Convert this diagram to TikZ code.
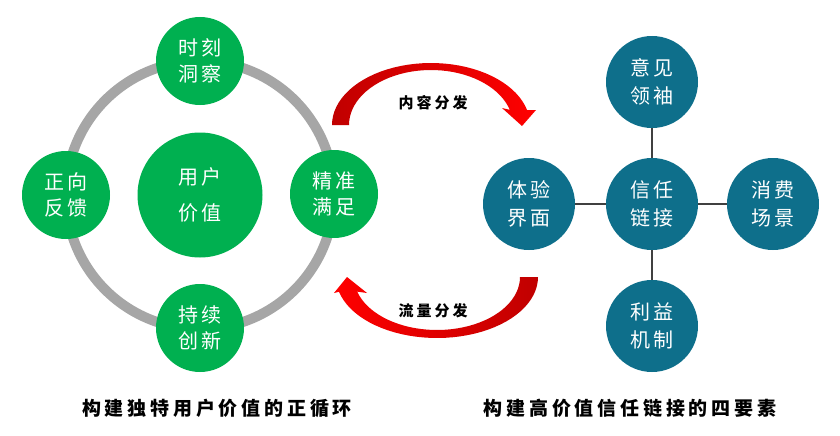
\documentclass[tikz,border=0pt]{standalone}
\usepackage{fontspec}
\newfontfamily\cjk{Noto Sans CJK SC}[LetterSpace=12]
\newfontfamily\cjkwide{Noto Sans CJK SC}[LetterSpace=20]
\definecolor{r0g176b80}{RGB}{0,176,80}
\definecolor{r14g111b139}{RGB}{14,111,139}
\definecolor{r166g166b166}{RGB}{166,166,166}
\definecolor{r64g64b64}{RGB}{64,64,64}
\definecolor{r192g0b0}{RGB}{192,0,0}
\definecolor{r255g0b0}{RGB}{255,0,0}
\tikzset{
  greenball/.style={circle, fill=r0g176b80, text=white, inner sep=0pt,
    minimum size=88pt, align=center, font=\cjk\fontsize{20}{26}\selectfont},
  tealball/.style={circle, fill=r14g111b139, text=white, inner sep=0pt,
    minimum size=92pt, align=center, font=\cjk\fontsize{20}{28}\selectfont},
  ring/.style={draw=r166g166b166, line width=10pt},
  linkline/.style={draw=r64g64b64, line width=1.2pt},
  arrowlabel/.style={font=\cjkwide\bfseries\fontsize{15}{18}\selectfont},
  caption/.style={font=\cjkwide\bfseries\fontsize{19}{22}\selectfont}
}
\begin{document}
\begin{tikzpicture}[x=1pt,y=-1pt]
% \clip (0,0) rectangle (840,436);
\useasboundingbox (0,0) rectangle (840,436);

% Left: the cycle round user value
\node[greenball, minimum size=125pt, font=\cjk\fontsize{20}{36}\selectfont] (yonghu) at (200,195) {用户\\价值};
\draw[ring] (yonghu.center) circle[radius=134pt];
\node[greenball] (shike) at (200,61) {时刻\\洞察};
\node[greenball] (jingzhun) at (334,194) {精准\\满足};
\node[greenball] (chixu) at (200,328) {持续\\创新};
\node[greenball] (zhengxiang) at (66,195) {正向\\反馈};

% Curved arrow top (content)
\shade[left color=r192g0b0, right color=r255g0b0]
  plot[domain=180:14, samples=40] ({431+99*cos(\x)},{125-62*sin(\x)})
  -- (536,110) -- (522,126) -- (502,108)
  -- plot[domain=16:180, samples=40] ({431+82*cos(\x)},{125-55*sin(\x)}) -- cycle;
\node[arrowlabel] (neirong) at (433,103) {内容分发};

% Curved arrow bottom (traffic)
\shade[left color=r255g0b0, right color=r192g0b0]
  plot[domain=0:166, samples=40] ({437+101*cos(\x)},{277+61*sin(\x)})
  -- (334,293) -- (347,277) -- (367,293)
  -- plot[domain=164:0, samples=40] ({437+83*cos(\x)},{277+53*sin(\x)}) -- cycle;
\node[arrowlabel] (liuliang) at (433,311) {流量分发};

% Right: four elements of trust
\node[tealball] (xinren) at (652,204) {信任\\链接};
\node[tealball] (yijian) at (652,82) {意见\\领袖};
\node[tealball] (tiyan) at (529,204) {体验\\界面};
\node[tealball] (xiaofei) at (773,204) {消费\\场景};
\node[tealball] (liyi) at (652,326) {利益\\机制};
\draw[linkline] (xinren) -- (yijian);
\draw[linkline] (xinren) -- (tiyan);
\draw[linkline] (xinren) -- (xiaofei);
\draw[linkline] (xinren) -- (liyi);

% Captions
\node[caption] (leftcap) at (217,408) {构建独特用户价值的正循环};
\node[caption] (rightcap) at (630,408) {构建高价值信任链接的四要素};
\end{tikzpicture}
\end{document}
